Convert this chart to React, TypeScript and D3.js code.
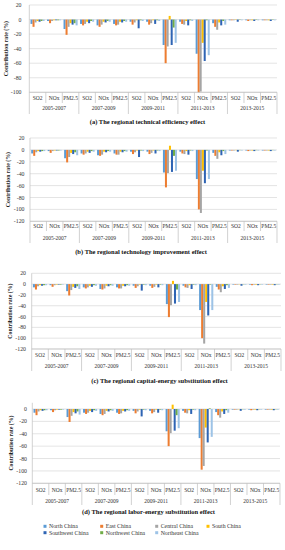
import React from "react"
import * as d3 from "d3"

const regions = ["North China", "East China", "Central China", "South China", "Southwest China", "Northwest China", "Northeast China"]
const colors = ["#5B9BD5", "#ED7D31", "#A5A5A5", "#FFC000", "#2E64B4", "#70AD47", "#9DC3E6"]
const periods = ["2005-2007", "2007-2009", "2009-2011", "2011-2013", "2013-2015"]
const pollutants = ["SO2", "NOx", "PM2.5"]

// one row per region, 15 values: period x pollutant
const techEfficiency = [
  [-6, -2, -13, -6, -8, -6, -3, -3, -35, -3, -47, -5, -1, -1, -1],
  [-10, -5, -21, -8, -10, -8, -7, -7, -60, -6, -100, -10, -1, -2, -1],
  [-4, -2, -10, -6, -7, -7, -4, -5, -37, -7, -99, -14, -1, -1, -1],
  [-2, -1, -5, -3, -3, -3, -1, -1, 5, -2, -32, -4, -0.5, -1, -1],
  [-3, -1, -7, -5, -4, -4, -12, -6, -35, -8, -57, -8, -3, -2, -2],
  [-2, -1, -5, -2, -2, -2, -1, -1, -11, -1, -1, -2, -0.5, -0.5, -0.5],
  [-2, -1, -8, -3, -3, -3, -2, -2, -32, -2, -49, -7, -1, -1, -1],
]
const techImprovement = [
  [-6, -2, -14, -6, -9, -6, -3, -3, -38, -3, -49, -5, -1, -1, -1],
  [-10, -5, -21, -8, -10, -8, -7, -7, -63, -6, -100, -10, -1, -2, -1],
  [-4, -2, -12, -6, -8, -8, -4, -5, -39, -7, -106, -15, -1, -1, -1],
  [-2, -1, -5, -3, -3, -3, -1, -1, 7, -2, -35, -4, -0.5, -1, -1],
  [-3, -1, -7, -5, -4, -4, -12, -6, -37, -8, -56, -9, -3, -2, -2],
  [-2, -1, -4, -2, -2, -2, -1, -1, -10, -1, -1, -2, -0.5, -0.5, -0.5],
  [-2, -1, -9, -3, -3, -3, -2, -2, -35, -2, -49, -7, -1, -1, -1],
]
const capitalEnergy = [
  [-6, -2, -13, -6, -9, -6, -3, -3, -37, -3, -48, -5, -1, -1, -1],
  [-10, -5, -21, -8, -10, -8, -7, -7, -61, -6, -100, -10, -1, -2, -1],
  [-4, -2, -11, -6, -8, -8, -4, -5, -39, -7, -110, -15, -1, -1, -1],
  [-2, -1, -5, -3, -3, -3, -1, -1, 6, -2, -33, -4, -0.5, -1, -1],
  [-3, -1, -7, -5, -4, -4, -12, -6, -36, -9, -58, -9, -3, -2, -2],
  [-2, -1, -4, -2, -2, -2, -1, -1, -10, -1, -1, -2, -0.5, -0.5, -0.5],
  [-2, -1, -9, -3, -3, -3, -2, -2, -33, -2, -48, -7, -1, -1, -1],
]
const laborEnergy = [
  [-6, -2, -13, -6, -8, -6, -3, -3, -36, -3, -47, -5, -1, -1, -1],
  [-10, -5, -21, -8, -10, -8, -7, -7, -60, -6, -98, -10, -1, -2, -1],
  [-4, -2, -11, -6, -8, -7, -4, -5, -39, -7, -92, -14, -1, -1, -1],
  [-2, -1, -5, -3, -3, -3, -1, -1, 7, -2, -30, -4, -0.5, -1, -1],
  [-3, -1, -7, -5, -4, -4, -12, -6, -35, -8, -54, -8, -3, -2, -2],
  [-2, -1, -4, -2, -2, -2, -1, -1, -10, -1, 1, -2, -0.5, -0.5, -0.5],
  [-2, -1, -9, -3, -3, -3, -2, -2, -31, -2, -45, -6, -1, -1, -1],
]

const font = "'Liberation Serif', 'DejaVu Serif', serif"

const panels = [
  { data: techEfficiency, caption: "(a) The regional technical efficiency effect", yMin: -100, yMax: 20,
    top: 5, bottom: 92.3, left: 29.3, right: 277, tickX: 21.5, titleX: 6, catY: 98, perY: 108.3, catLine: 103, perLine: 114, capX: 147.5, capY: 121 },
  { data: techImprovement, caption: "(b) The regional technology improvement effect", yMin: -120, yMax: 20,
    top: 138, bottom: 221.3, left: 30, right: 277, tickX: 24.5, titleX: 8, catY: 225.7, perY: 237.7, catLine: 231, perLine: 243, capX: 141, capY: 251 },
  { data: capitalEnergy, caption: "(c) The regional capital-energy substitution effect", yMin: -120, yMax: 20,
    top: 273.3, bottom: 349, left: 31.7, right: 281, tickX: 26, titleX: 9.5, catY: 355, perY: 366, catLine: 360, perLine: 371, capX: 159.5, capY: 380.7 },
  { data: laborEnergy, caption: "(d) The regional labor-energy substitution effect", yMin: -120, yMax: 10,
    top: 402.8, bottom: 483.3, left: 32.3, right: 280, tickX: 27, titleX: 11, catY: 490, perY: 500.7, catLine: 495, perLine: 505, capX: 148.5, capY: 511.7 },
]

const categories = periods.flatMap(p => pollutants.map(q => p + "|" + q))

const Panel = ({ cfg }: { cfg: any }) => {
  const y = d3.scaleLinear().domain([cfg.yMin, cfg.yMax]).range([cfg.bottom, cfg.top])
  const x = d3.scaleBand().domain(categories).range([cfg.left, cfg.right]).paddingInner(0).paddingOuter(0)
  const xr = d3.scaleBand().domain(regions).range([0, x.bandwidth()]).paddingInner(0).paddingOuter(0.6)
  const ticks = d3.range(cfg.yMin, cfg.yMax + 0.1, 20)
  const pw = (cfg.right - cfg.left) / periods.length
  const midY = (cfg.top + cfg.bottom) / 2
  return (
    <g>
      {ticks.map(t => (
        <g key={t}>
          <line x1={cfg.left} x2={cfg.right} y1={y(t)} y2={y(t)} stroke="#d9d9d9" strokeWidth={0.7} />
          <text x={cfg.tickX} y={y(t)} textAnchor="end" dominantBaseline="central" fontSize={5.8} fill="#333">{t}</text>
        </g>
      ))}
      <line x1={cfg.left} x2={cfg.left} y1={cfg.top} y2={cfg.bottom} stroke="#bfbfbf" strokeWidth={0.7} />
      <text transform={`translate(${cfg.titleX},${midY}) rotate(-90)`} textAnchor="middle" dominantBaseline="central"
        fontSize={5.8} fontWeight="bold" fill="#222">Contribution rate (%)</text>
      {cfg.data.map((vals: number[], ri: number) => (
        <g key={ri} fill={colors[ri]}>
          {vals.map((v, ci) => (
            <rect key={ci} x={(x(categories[ci]) as number) + (xr(regions[ri]) as number)} width={xr.bandwidth()}
              y={Math.min(y(v), y(0))} height={Math.abs(y(v) - y(0))} />
          ))}
        </g>
      ))}
      <line x1={cfg.left} x2={cfg.right} y1={cfg.bottom} y2={cfg.bottom} stroke="#bfbfbf" strokeWidth={0.7} />
      {categories.map((c, ci) => {
        const x0 = x(c) as number
        const isPeriod = ci % 3 === 0
        return (
          <g key={c}>
            <line x1={x0} x2={x0} y1={cfg.bottom} y2={isPeriod ? cfg.perLine : cfg.catLine} stroke="#bfbfbf" strokeWidth={0.7} />
            <text x={x0 + x.bandwidth() / 2} y={cfg.catY} textAnchor="middle" dominantBaseline="central" fontSize={5.5} fill="#333">
              {c.split("|")[1]}
            </text>
          </g>
        )
      })}
      <line x1={cfg.right} x2={cfg.right} y1={cfg.bottom} y2={cfg.perLine} stroke="#bfbfbf" strokeWidth={0.7} />
      {periods.map((p, pi) => (
        <text key={p} x={cfg.left + pw * (pi + 0.5)} y={cfg.perY} textAnchor="middle" dominantBaseline="central" fontSize={5.5} fill="#333">{p}</text>
      ))}
      <text x={cfg.capX} y={cfg.capY} textAnchor="middle" dominantBaseline="central" fontSize={6.5} fontWeight="bold" fill="#111">{cfg.caption}</text>
    </g>
  )
}

const legendX = [45, 101.7, 156.7, 208]
const legendY = [526.3, 532.7]

const App = () => {
  return (
    <svg width={285} height={550} fontFamily={font} style={{ position: "absolute", left: 0, top: 0 }}>
      <rect width={285} height={550} fill="#fff" />
      {panels.map((p, i) => <Panel key={i} cfg={p} />)}
      {regions.map((r, i) => {
        const lx = legendX[i % 4]
        const ly = legendY[Math.floor(i / 4)]
        return (
          <g key={r}>
            <rect x={lx - 1.5} y={ly - 1.5} width={3} height={3} fill={colors[i]} />
            <text x={lx + 4} y={ly} dominantBaseline="central" fontSize={5.8} fill="#333">{r}</text>
          </g>
        )
      })}
    </svg>
  )
}

export default App
